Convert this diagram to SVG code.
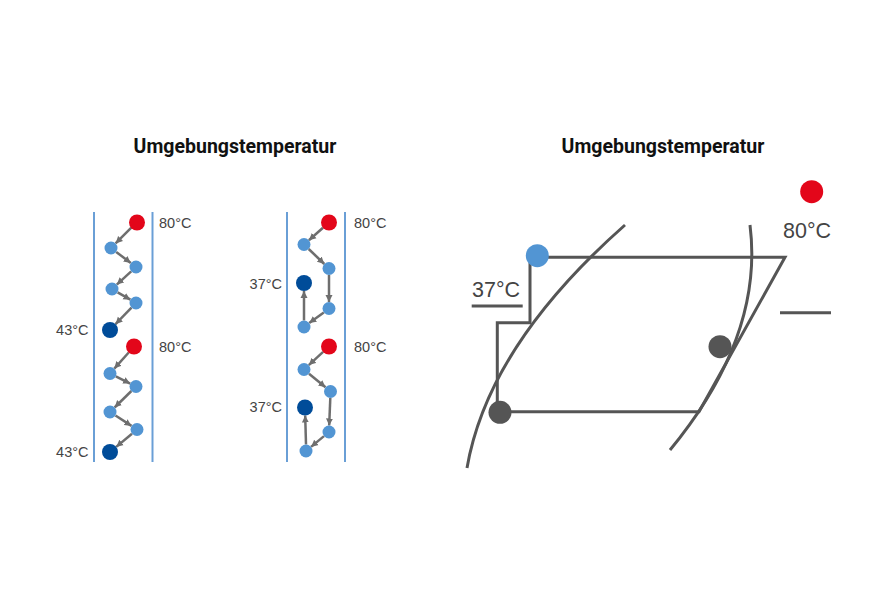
<svg xmlns="http://www.w3.org/2000/svg" width="888" height="604" viewBox="0 0 888 604">
<style>
.title{font-family:Roboto,"Liberation Sans",sans-serif;font-weight:bold;font-size:19.5px;fill:#111;text-anchor:middle}
.lbl{font-family:"Liberation Sans",Arial,sans-serif;font-size:14.5px;fill:#444}
.big{font-family:"Liberation Sans",Arial,sans-serif;font-size:21.5px;fill:#444}
.wall{stroke:#6a9fd6;stroke-width:2;fill:none}
.arr{stroke:#6e6e6e;stroke-width:2.5;fill:none;marker-end:url(#ah)}
.red{fill:#e3061a}
.lb{fill:#5295d3}
.db{fill:#004c99}
.gl{stroke:#555;stroke-width:3;fill:none}
.gc{fill:#555}
</style>
<defs>
<marker id="ah" markerUnits="userSpaceOnUse" markerWidth="8" markerHeight="8" refX="7" refY="4" orient="auto">
<path d="M0,0.5 L7,4 L0,7.5 z" fill="#6e6e6e"/>
</marker>
</defs>
<rect width="888" height="604" fill="#fff"/>
<text class="title" x="235" y="153">Umgebungstemperatur</text>
<text class="title" x="663" y="153">Umgebungstemperatur</text>

<g id="panel1">
<line class="wall" x1="94" y1="212" x2="94" y2="462"/>
<line class="wall" x1="152.5" y1="212" x2="152.5" y2="462"/>
<text class="lbl" x="159" y="228">80°C</text>
<text class="lbl" x="159" y="352">80°C</text>
<text class="lbl" x="88.5" y="335" text-anchor="end">43°C</text>
<text class="lbl" x="88.5" y="457" text-anchor="end">43°C</text>
</g>
<g id="panel2">
<line class="wall" x1="287" y1="212" x2="287" y2="462"/>
<line class="wall" x1="345" y1="212" x2="345" y2="462"/>
<text class="lbl" x="354" y="228">80°C</text>
<text class="lbl" x="354" y="352">80°C</text>
<text class="lbl" x="282" y="289" text-anchor="end">37°C</text>
<text class="lbl" x="282" y="412" text-anchor="end">37°C</text>
</g>

<g id="connectors">
<line class="arr" x1="131.3" y1="227.7" x2="115.6" y2="243.4"/>
<line class="arr" x1="116.2" y1="251.9" x2="130.8" y2="263.1"/>
<line class="arr" x1="131.2" y1="271.4" x2="116.8" y2="284.6"/>
<line class="arr" x1="117.6" y1="292.3" x2="130.4" y2="299.7"/>
<line class="arr" x1="131.5" y1="307.7" x2="115.5" y2="324.2"/>
<line class="arr" x1="128.7" y1="352.5" x2="114.3" y2="368.6"/>
<line class="arr" x1="115.8" y1="376.4" x2="130.2" y2="383.6"/>
<line class="arr" x1="131.4" y1="391" x2="114.6" y2="407.5"/>
<line class="arr" x1="115.5" y1="415.5" x2="131.5" y2="425.9"/>
<line class="arr" x1="132" y1="433.7" x2="116.2" y2="446.9"/>

<line class="arr" x1="323" y1="227.8" x2="308.9" y2="240.2"/>
<line class="arr" x1="308.7" y1="249" x2="324.3" y2="264"/>
<line class="arr" x1="329" y1="275" x2="329" y2="302"/>
<line class="arr" x1="323.8" y1="312.4" x2="309.2" y2="323.1"/>
<line class="arr" x1="304" y1="320.5" x2="304" y2="291"/>
<line class="arr" x1="323.1" y1="351.9" x2="308.8" y2="365.1"/>
<line class="arr" x1="309" y1="373.7" x2="325.5" y2="387.3"/>
<line class="arr" x1="330.3" y1="398" x2="329.2" y2="425.5"/>
<line class="arr" x1="324" y1="436.1" x2="311" y2="446.9"/>
<line class="arr" x1="306" y1="444.5" x2="305.2" y2="415.5"/>
</g>

<g id="nodes1">
<circle class="red" cx="137" cy="222.5" r="8"/>
<circle class="lb" cx="111" cy="248" r="6.5"/>
<circle class="lb" cx="136" cy="267" r="6.5"/>
<circle class="lb" cx="112" cy="289" r="6.5"/>
<circle class="lb" cx="136" cy="303" r="6.5"/>
<circle class="db" cx="110" cy="330" r="8"/>
<circle class="red" cx="134" cy="346.5" r="8"/>
<circle class="lb" cx="110" cy="373.5" r="6.5"/>
<circle class="lb" cx="136" cy="386.5" r="6.5"/>
<circle class="lb" cx="110" cy="412" r="6.5"/>
<circle class="lb" cx="137" cy="429.5" r="6.5"/>
<circle class="db" cx="110" cy="452" r="8"/>
</g>
<g id="nodes2">
<circle class="red" cx="329" cy="222.5" r="8"/>
<circle class="lb" cx="304" cy="244.5" r="6.5"/>
<circle class="lb" cx="329" cy="268.5" r="6.5"/>
<circle class="db" cx="304" cy="283" r="8"/>
<circle class="lb" cx="329" cy="308.5" r="6.5"/>
<circle class="lb" cx="304" cy="327" r="6.5"/>
<circle class="red" cx="329" cy="346.5" r="8"/>
<circle class="lb" cx="304" cy="369.5" r="6.5"/>
<circle class="lb" cx="330.5" cy="391.5" r="6.5"/>
<circle class="db" cx="305" cy="407.5" r="8"/>
<circle class="lb" cx="329" cy="432" r="6.5"/>
<circle class="lb" cx="306" cy="451" r="6.5"/>
</g>

<g id="chart">
<path class="gl" d="M625,225 Q488,346 467,468"/>
<path class="gl" d="M750,225 Q764,336 670,450"/>
<path class="gl" d="M537,257.3 L785,257.3 L699,411.7 L500,411.7"/>
<path class="gl" d="M530,257 L530,322.7 L497.3,322.7 L497.3,405"/>
<line class="gl" x1="471.7" y1="306" x2="522.7" y2="306"/>
<line class="gl" x1="780" y1="312.7" x2="831" y2="312.7"/>
<text class="big" x="472" y="297">37°C</text>
<text class="big" x="783" y="238">80°C</text>
<circle class="red" cx="811.7" cy="191.7" r="11.5"/>
<circle class="lb" cx="537.3" cy="255.7" r="11.5"/>
<circle class="gc" cx="500" cy="412.3" r="11.5"/>
<circle class="gc" cx="720" cy="346.7" r="11.5"/>
</g>
</svg>
